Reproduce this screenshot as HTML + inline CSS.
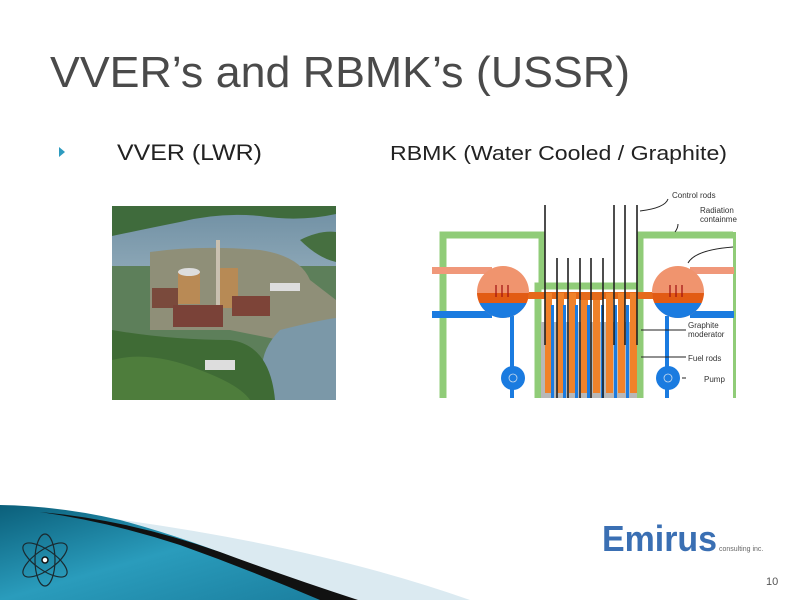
<!DOCTYPE html>
<html><head><meta charset="utf-8"><style>
html,body{margin:0;padding:0;background:#fff;}
body{width:800px;height:600px;overflow:hidden;position:relative;font-family:"Liberation Sans",sans-serif;}
svg{position:absolute;left:0;top:0;}
</style></head><body>
<svg width="800" height="600" viewBox="0 0 800 600" xmlns="http://www.w3.org/2000/svg" font-family="Liberation Sans, sans-serif">
<defs>
<linearGradient id="sw" x1="0" y1="0" x2="1" y2="1">
<stop offset="0" stop-color="#0b5f7a"/><stop offset="0.5" stop-color="#2a9cbc"/><stop offset="1" stop-color="#1b7f9f"/>
</linearGradient>
<linearGradient id="water" x1="0" y1="0" x2="0" y2="1">
<stop offset="0" stop-color="#6f8fa3"/><stop offset="1" stop-color="#8aa5b5"/>
</linearGradient>
</defs>
<text x="50" y="87" font-size="44" fill="#4a4a4a" textLength="580" lengthAdjust="spacingAndGlyphs">VVER’s and RBMK’s (USSR)</text>
<polygon points="59,147 65,152 59,157" fill="#2e9bbf"/>
<text x="117" y="160" font-size="22" fill="#222" textLength="145" lengthAdjust="spacingAndGlyphs">VVER (LWR)</text>
<text x="390" y="160" font-size="20" fill="#222" textLength="337" lengthAdjust="spacingAndGlyphs">RBMK (Water Cooled / Graphite)</text>

<g>
<rect x="112" y="206" width="224" height="194" fill="#5d7f5a"/>
<rect x="112" y="206" width="224" height="60" fill="url(#water)"/>
<path d="M112 206 H336 V214 Q300 222 260 216 Q220 212 180 222 Q150 228 112 236Z" fill="#3f6b3c"/>
<path d="M300 240 Q320 230 336 232 V262 Q318 258 300 240Z" fill="#466f40"/>
<path d="M150 252 Q200 245 260 250 Q300 256 310 280 L336 300 V340 Q300 330 280 340 L230 330 L150 330 Z" fill="#8f8f78"/>
<path d="M280 330 Q320 320 336 318 V400 H270 Q250 360 280 330Z" fill="#7b98a8"/>
<path d="M112 330 Q170 340 230 340 Q270 345 275 400 H112Z" fill="#3f6b35"/>
<path d="M112 360 Q150 350 200 370 Q240 385 250 400 H112Z" fill="#4e7d3c"/>
<rect x="178" y="272" width="22" height="32" fill="#b98a55"/>
<ellipse cx="189" cy="272" rx="11" ry="4" fill="#ddd"/>
<rect x="216" y="268" width="22" height="40" fill="#b78a55"/>
<rect x="216" y="240" width="4" height="70" fill="#c9c0b0"/>
<rect x="152" y="288" width="26" height="20" fill="#7a4a3c"/>
<rect x="173" y="305" width="50" height="22" fill="#7a4238"/>
<rect x="232" y="296" width="38" height="20" fill="#7d4438"/>
<rect x="205" y="360" width="30" height="10" fill="#ddd"/>
<rect x="270" y="283" width="30" height="8" fill="#ddd"/>
</g>

<g>
<path d="M443 398 V235 H542 V283" fill="none" stroke="#90cc78" stroke-width="7"/>
<path d="M733 235 H640 V283" fill="none" stroke="#90cc78" stroke-width="7"/>
<rect x="733" y="232" width="3" height="166" fill="#90cc78"/>
<path d="M538 398 V286 H640 V398" fill="none" stroke="#90cc78" stroke-width="7"/>
<rect x="432" y="267" width="60" height="7" fill="#f0987a"/>
<rect x="432" y="311" width="60" height="7" fill="#1a7be0"/>
<rect x="690" y="267" width="44" height="7" fill="#f0987a"/>
<rect x="690" y="311" width="44" height="7" fill="#1a7be0"/>
<rect x="510" y="292" width="170" height="7" fill="#e56a1a"/>
<rect x="510" y="316" width="4" height="62" fill="#1a7be0"/>
<rect x="665" y="316" width="4" height="62" fill="#1a7be0"/>
<rect x="510" y="378" width="4" height="20" fill="#1a7be0"/>
<rect x="665" y="378" width="4" height="20" fill="#1a7be0"/>
<g>
<clipPath id="c1"><circle cx="503" cy="292" r="26"/></clipPath>
<circle cx="503" cy="292" r="26" fill="#f0946e"/>
<rect x="476" y="293" width="54" height="10" fill="#e25b14" clip-path="url(#c1)"/>
<rect x="476" y="303" width="54" height="20" fill="#1a7be0" clip-path="url(#c1)"/>
<clipPath id="c2"><circle cx="678" cy="292" r="26"/></clipPath>
<circle cx="678" cy="292" r="26" fill="#f0946e"/>
<rect x="651" y="293" width="54" height="10" fill="#e25b14" clip-path="url(#c2)"/>
<rect x="651" y="303" width="54" height="20" fill="#1a7be0" clip-path="url(#c2)"/>
<g stroke="#a01010" stroke-width="1.2" fill="none">
<path d="M496 297 V285 M502 297 V285 M508 297 V285 M670 297 V285 M676 297 V285 M682 297 V285"/>
</g>
</g>
<rect x="541" y="322" width="96" height="76" fill="#b8b8b8"/>
<g fill="#f0822a">
<rect x="545" y="293" width="7" height="100"/><rect x="557" y="293" width="7" height="100"/>
<rect x="569" y="293" width="7" height="100"/><rect x="581" y="293" width="7" height="100"/>
<rect x="593" y="293" width="7" height="100"/><rect x="606" y="293" width="7" height="100"/>
<rect x="618" y="293" width="7" height="100"/><rect x="630" y="293" width="7" height="100"/>
</g>
<g fill="#1a7be0">
<rect x="551" y="305" width="3" height="93"/><rect x="563" y="305" width="3" height="93"/>
<rect x="575" y="305" width="3" height="93"/><rect x="587" y="305" width="3" height="93"/>
<rect x="601" y="305" width="3" height="93"/><rect x="614" y="305" width="3" height="93"/>
<rect x="626" y="305" width="3" height="93"/>
</g>
<rect x="580" y="293" width="23" height="7" fill="#e56a1a"/>
<g stroke="#222" stroke-width="1.6">
<path d="M545 205 V345 M557 258 V398 M568 258 V398 M580 258 V398 M591 258 V398 M603 258 V398 M614 205 V345 M625 205 V345 M637 205 V345"/>
</g>
<circle cx="513" cy="378" r="12" fill="#1a7be0"/>
<circle cx="668" cy="378" r="12" fill="#1a7be0"/>
<g stroke="#cde" stroke-width="0.8"><circle cx="513" cy="378" r="4" fill="none"/><circle cx="668" cy="378" r="4" fill="none"/></g>
<g stroke="#222" stroke-width="1" fill="none">
<path d="M668 199 Q665 208 640 211"/>
<path d="M678 224 Q678 228 675 232"/>
<path d="M733 247 Q695 250 688 263"/>
<path d="M686 330 H641"/>
<path d="M686 357 H641"/>
<path d="M686 378 H682"/>
</g>
<g font-size="8" fill="#333">
<text x="672" y="198">Control rods</text>
<text x="700" y="213">Radiation</text>
<text x="700" y="222">containme</text>
<text x="688" y="328">Graphite</text>
<text x="688" y="337">moderator</text>
<text x="688" y="361">Fuel rods</text>
<text x="704" y="382">Pump</text>
</g>
</g>

<!-- bottom swoosh -->
<path d="M60 512 Q300 540 470 600 H330 Q200 545 60 512Z" fill="#dbeaf1"/>
<path d="M0 505 Q60 506 120 520 Q230 550 330 600 H0Z" fill="url(#sw)"/>
<path d="M40 512 Q130 520 220 552 Q290 578 358 600 H320 Q250 570 180 545 Q110 522 40 512Z" fill="#111"/>
<g stroke="#1a2a30" stroke-width="1.2" fill="none">
<ellipse cx="45" cy="560" rx="26" ry="10" transform="rotate(-35 45 560)"/>
<ellipse cx="45" cy="560" rx="26" ry="10" transform="rotate(35 45 560)"/>
<ellipse cx="45" cy="560" rx="10" ry="26"/>
</g>
<circle cx="45" cy="560" r="3" fill="#fff" stroke="#111" stroke-width="1.5"/>
<text x="602" y="551" font-size="36" font-weight="bold" fill="#3a6fb3" textLength="115" lengthAdjust="spacingAndGlyphs">Emirus</text>
<text x="719" y="551" font-size="7" fill="#666">consulting inc.</text>
<text x="766" y="585" font-size="11" fill="#555">10</text>
</svg>
</body></html>
